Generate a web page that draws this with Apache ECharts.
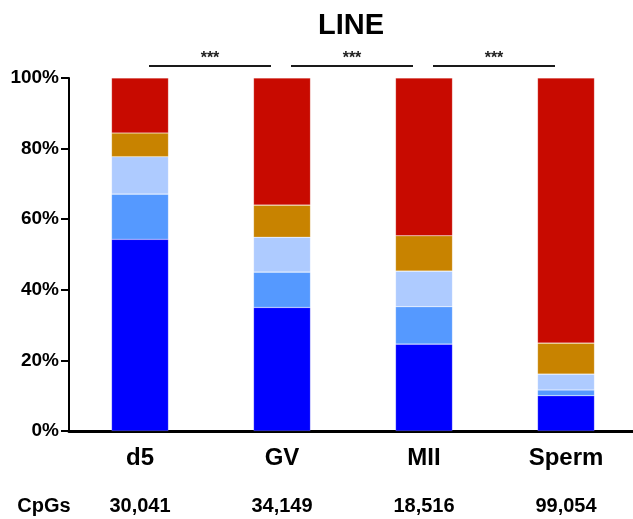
<!DOCTYPE html>
<html>
<head>
<meta charset="utf-8">
<script src="https://cdn.jsdelivr.net/npm/echarts@6/dist/echarts.min.js"></script>
<style>
html,body{margin:0;padding:0;background:#fff;overflow:hidden;}
#chart{width:637px;height:519px;}
</style>
</head>
<body>
<div id="chart"></div>
<script>
const titleText = 'LINE';
const categories = ['d5', 'GV', 'MII', 'Sperm'];
const cpgCounts = ['30,041', '34,149', '18,516', '99,054'];
const rowLabel = 'CpGs';
// stacked percentage segments, bottom to top
const segBlue      = [54.3, 35.0, 24.6, 10.0];
const segMidBlue   = [12.8, 10.0, 10.6, 1.6];
const segLightBlue = [10.6, 9.9, 10.1, 4.5];
const segOrange    = [6.7, 9.1, 10.0, 8.8];
const segRed       = [15.6, 36.0, 44.7, 75.1];
const yTicks = [0, 20, 40, 60, 80, 100];
const comparisons = [[0, 1, '***'], [1, 2, '***'], [2, 3, '***']];
const bracketLevel = 103.4;
const starLevel = 105.4;

const FONT = 'Liberation Sans, Arial, Helvetica, sans-serif';
const colors = ['#0000FF', '#5599FF', '#AECBFF', '#C88300', '#C80A00'];
const segs = [segBlue, segMidBlue, segLightBlue, segOrange, segRed];

const chart = echarts.init(document.getElementById('chart'), null, {renderer: 'canvas'});

const option = {
  animation: false,
  backgroundColor: '#fff',
  title: {
    text: titleText,
    left: 346,
    textAlign: 'center',
    top: 6,
    textStyle: {fontFamily: FONT, fontSize: 29, fontWeight: 'bold', color: '#000'}
  },
  grid: {left: 69, right: 0, top: 78, height: 353, containLabel: false},
  xAxis: [{
    type: 'category',
    data: categories,
    position: 'bottom',
    axisLine: {show: true, lineStyle: {color: '#000', width: 3}},
    axisTick: {show: false},
    axisLabel: {fontFamily: FONT, fontSize: 24, fontWeight: 'bold', color: '#000', margin: 15}
  }, {
    type: 'category',
    data: cpgCounts,
    position: 'bottom',
    offset: 52,
    axisLine: {show: false},
    axisTick: {show: false},
    axisLabel: {fontFamily: FONT, fontSize: 20, fontWeight: 'bold', color: '#000', margin: 13}
  }],
  yAxis: {
    type: 'value',
    min: yTicks[0],
    max: yTicks[yTicks.length - 1],
    interval: yTicks[1] - yTicks[0],
    axisLine: {show: true, lineStyle: {color: '#000', width: 2}},
    axisTick: {show: true, length: 8, lineStyle: {color: '#000', width: 2}},
    splitLine: {show: false},
    axisLabel: {fontFamily: FONT, fontSize: 19, fontWeight: 'bold', color: '#000', margin: 10,
      formatter: v => v + '%'}
  },
  series: segs.map((d, i) => ({
    type: 'bar',
    stack: 'total',
    data: d,
    barWidth: 57,
    itemStyle: {color: colors[i], borderColor: 'rgba(255,255,255,0.3)', borderWidth: 0.6}
  }))
};
chart.setOption(option);

const graphics = [];
comparisons.forEach(([a, b, label]) => {
  const xa = chart.convertToPixel({xAxisIndex: 0}, categories[a]);
  const xb = chart.convertToPixel({xAxisIndex: 0}, categories[b]);
  const yl = chart.convertToPixel({yAxisIndex: 0}, bracketLevel);
  const ys = chart.convertToPixel({yAxisIndex: 0}, starLevel);
  graphics.push({
    type: 'line',
    shape: {x1: xa + 9, y1: yl, x2: xb - 11, y2: yl},
    style: {stroke: '#1a1a1a', lineWidth: 2}
  });
  graphics.push({
    type: 'text',
    x: (xa + xb) / 2 - 1, y: ys,
    style: {text: label, fontFamily: FONT, fontSize: 16, fontWeight: 'bold', fill: '#222',
      textAlign: 'center', textVerticalAlign: 'middle'}
  });
});
const yRow = chart.convertToPixel({yAxisIndex: 0}, 0);
graphics.push({
  type: 'text',
  x: 44, y: yRow + 75,
  style: {text: rowLabel, fontFamily: FONT, fontSize: 20, fontWeight: 'bold', fill: '#000',
    textAlign: 'center', textVerticalAlign: 'middle'}
});
chart.setOption({graphic: graphics});
</script>
</body>
</html>
